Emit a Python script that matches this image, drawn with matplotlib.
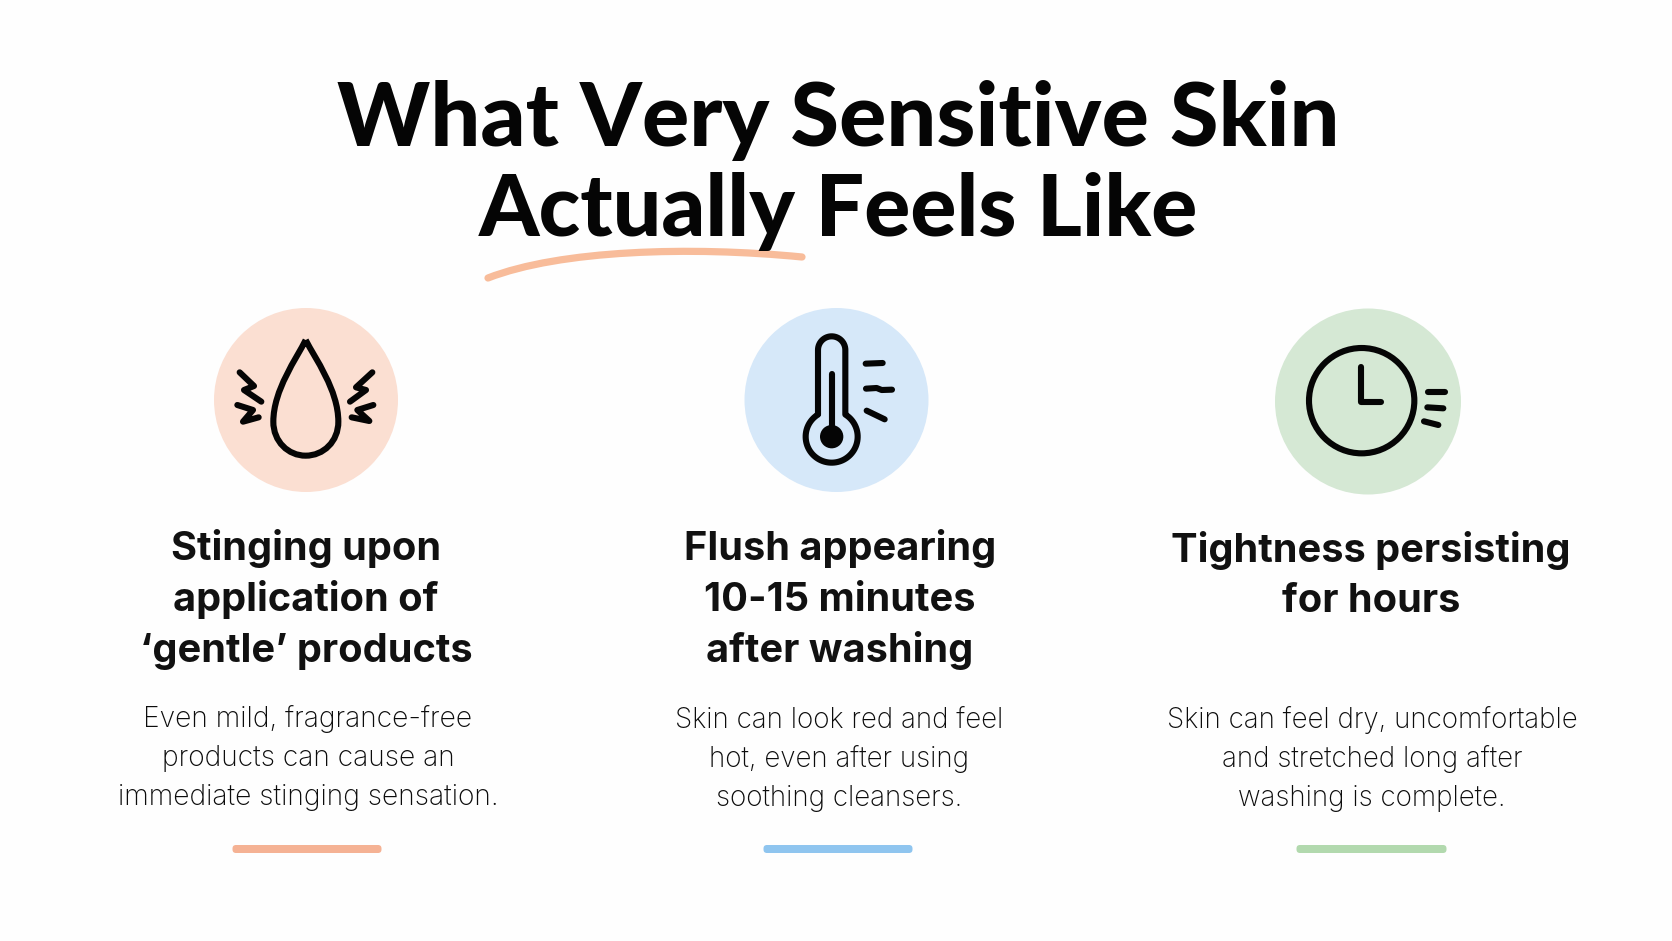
import numpy as np
import matplotlib
matplotlib.use("Agg")
import matplotlib.pyplot as plt
from matplotlib.patches import Circle, FancyBboxPatch, PathPatch
from matplotlib.path import Path

plt.rcParams["font.family"] = ["Inter", "DejaVu Sans"]

title_lines = ["What Very Sensitive Skin", "Actually Feels Like"]
title_y = [146, 236]
title_x = [838, 838]
title_size = [63.5, 62]

headings = [
    ["Stinging upon", "application of", "‘gentle’ products"],
    ["Flush appearing", "10-15 minutes", "after washing"],
    ["Tightness persisting", "for hours"],
]
heading_x = [306, 840, 1371]
heading_y = [[560, 611, 662], [560, 611, 662], [562, 612]]

bodies = [
    ["Even mild, fragrance-free", "products can cause an", "immediate stinging sensation."],
    ["Skin can look red and feel", "hot, even after using", "soothing cleansers."],
    ["Skin can feel dry, uncomfortable", "and stretched long after", "washing is complete."],
]
body_x = [308, 839, 1372]
body_y = [[727, 766, 805], [728, 767, 806], [728, 767, 806]]
body_size = [20.3, 20, 20]

circle_x = [306, 836.5, 1368]
circle_y = [400, 400, 401.5]
circle_r = [92, 92, 93]
circle_colors = ["#FBDFD2", "#D6E8F9", "#D5E8D4"]

bar_left = [232, 763, 1296]
bar_right = [382, 913, 1447]
bar_colors = ["#F5B294", "#8FC5EF", "#B2D9AE"]
bar_y = 849

INK = "#050505"
ICON_LW = 4.4


def zoomed(points, x0, y0):
    # icon outlines were measured on 3x crops of the picture
    pts = np.asarray(points, dtype=float)
    return pts[:, 0] / 3 + x0, pts[:, 1] / 3 + y0


def stroke(ax, points, x0, y0, lw=ICON_LW):
    xs, ys = zoomed(points, x0, y0)
    ax.plot(xs, ys, color=INK, lw=lw, solid_capstyle="round", solid_joinstyle="round")


def draw_drop(ax):
    x0, y0 = 190, 290
    verts = [
        (347, 150),
        (320, 205), (250, 300), (250, 395),
        (250, 455), (295, 497), (347, 497),
        (400, 497), (445, 455), (445, 395),
        (445, 300), (375, 205), (347, 150),
    ]
    codes = [Path.MOVETO] + [Path.CURVE4] * 12
    xs, ys = zoomed(verts, x0, y0)
    ax.add_patch(PathPatch(Path(np.c_[xs, ys], codes), fill=False, ec=INK,
                           lw=ICON_LW, joinstyle="miter"))
    # the small bolts come from tighter crops
    stroke(ax, [(35, 37), (78, 78), (48, 90), (100, 125)], 228, 360)
    stroke(ax, [(28, 135), (75, 150), (45, 185), (92, 172)], 228, 360)
    stroke(ax, [(97, 37), (48, 82), (78, 90), (30, 125)], 340, 360)
    stroke(ax, [(100, 135), (52, 150), (88, 183), (35, 172)], 340, 360)


def draw_thermometer(ax):
    x0, y0 = 720, 290
    cx, cy, r = 335, 440, 78
    top = np.linspace(np.pi, 0, 30)
    a = np.arcsin(41 / r)
    bulb = np.linspace(-np.pi / 2 + a, 1.5 * np.pi - a, 80)
    pts = [(294, 370), (294, 180)]
    pts += list(zip(335 + 41 * np.cos(top), 180 - 41 * np.sin(top)))
    pts += [(376, 370)]
    pts += list(zip(cx + r * np.cos(bulb), cy + r * np.sin(bulb)))
    pts += [(294, 370)]
    stroke(ax, pts, x0, y0)
    stroke(ax, [(335, 252), (335, 430)], x0, y0)
    ax.add_patch(Circle((cx / 3 + x0, cy / 3 + y0), 35 / 3, color=INK, lw=0))
    stroke(ax, [(437, 221), (488, 219)], x0, y0)
    stroke(ax, [(438, 296), (470, 294), (485, 300), (516, 299)], x0, y0)
    stroke(ax, [(440, 362), (494, 388)], x0, y0)


def draw_clock(ax):
    x0, y0 = 1250, 290
    ax.add_patch(Circle((335 / 3 + x0, 332 / 3 + y0), 158 / 3, fill=False, ec=INK, lw=ICON_LW))
    stroke(ax, [(333, 230), (333, 336), (393, 336)], x0, y0)
    stroke(ax, [(533, 307), (585, 307)], x0, y0)
    stroke(ax, [(532, 352), (580, 355)], x0, y0)
    stroke(ax, [(522, 394), (565, 405)], x0, y0)


fig = plt.figure(figsize=(16.72, 9.41), dpi=100, facecolor="#FEFEFE")
ax = fig.add_axes([0, 0, 1, 1])
ax.set_xlim(0, 1672)
ax.set_ylim(941, 0)
ax.axis("off")

# hand drawn swoosh under "Actually", the y of the title sits on top of it
swoosh = Path([(488, 278), (560, 250), (690, 246), (802, 257)],
              [Path.MOVETO, Path.CURVE4, Path.CURVE4, Path.CURVE4])
ax.add_patch(PathPatch(swoosh, fill=False, ec="#F8BC9A", lw=5.2, capstyle="round", zorder=1))

for line, x, y, size in zip(title_lines, title_x, title_y, title_size):
    ax.text(x, y, line, ha="center", va="baseline", fontsize=size, fontweight="black",
            family=["Lato", "DejaVu Sans"], color="#050505", zorder=2)

for i in range(3):
    ax.add_patch(Circle((circle_x[i], circle_y[i]), circle_r[i], color=circle_colors[i], lw=0))
    for line, y in zip(headings[i], heading_y[i]):
        ax.text(heading_x[i], y, line, ha="center", va="baseline", fontsize=28.6,
                fontweight="bold", color="#111111")
    for line, y in zip(bodies[i], body_y[i]):
        ax.text(body_x[i], y, line, ha="center", va="baseline", fontsize=body_size[i],
                fontweight="light", color="#0C0C0C")
    ax.add_patch(FancyBboxPatch((bar_left[i] + 4, bar_y - 0.5), bar_right[i] - bar_left[i] - 8, 1,
                                boxstyle="round,pad=3.5,rounding_size=3.5",
                                fc=bar_colors[i], ec="none"))

draw_drop(ax)
draw_thermometer(ax)
draw_clock(ax)

fig.savefig("out.png", dpi=100, facecolor=fig.get_facecolor())
plt.close(fig)
